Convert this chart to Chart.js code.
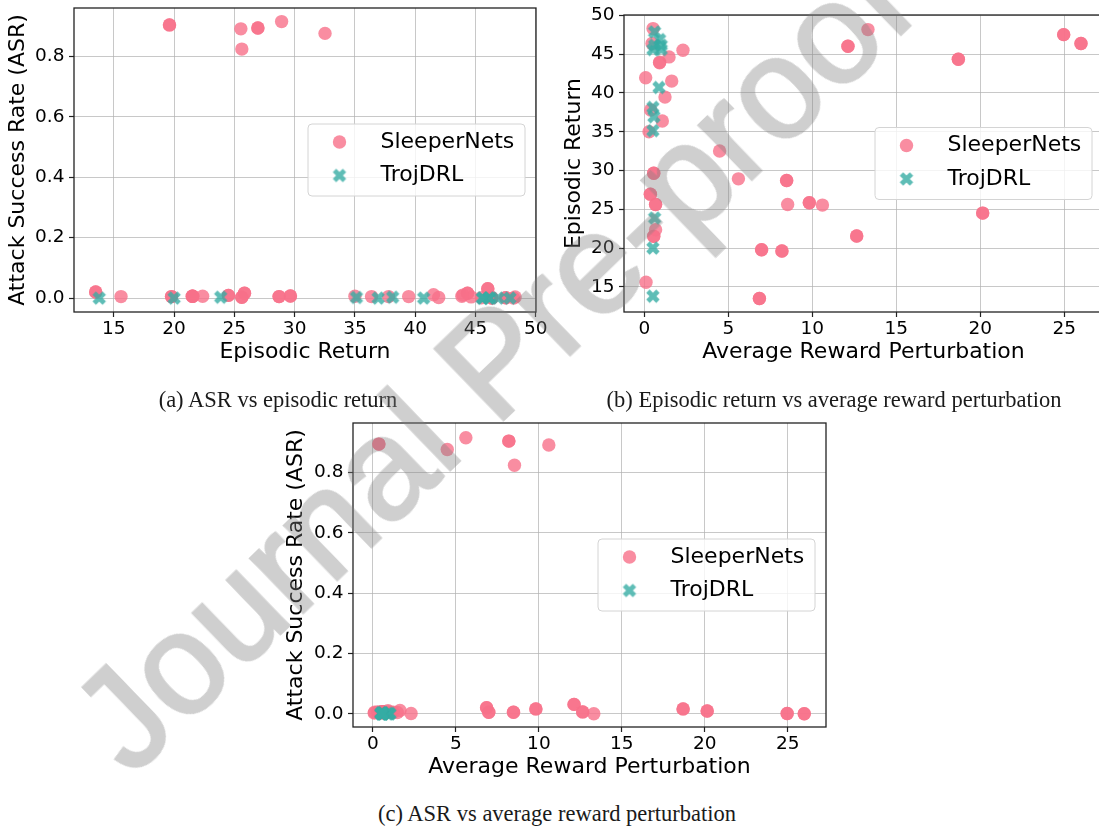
<!DOCTYPE html>
<html>
<head>
<meta charset="utf-8">
<script src="https://cdn.jsdelivr.net/npm/chart.js@4.4.1/dist/chart.umd.min.js"></script>
<style>
  html, body { margin: 0; padding: 0; background: #fff; overflow: hidden; }
  body { width: 1099px; height: 828px; position: relative; }
  canvas { position: absolute; }
  .caption {
    position: absolute; white-space: nowrap; transform: translate(-50%, -50%);
    font-family: "Liberation Serif", serif; font-size: 22.5px; color: #1a1a1a;
  }
  #watermark {
    position: absolute; left: 492px; top: 362px; white-space: nowrap; line-height: 1;
    transform: translate(-50%, -50%) rotate(-44deg);
    font-family: "Liberation Sans", sans-serif; font-size: 142px;
    color: rgb(128, 128, 128); -webkit-text-stroke: 3px rgb(128, 128, 128);
    opacity: 0.38; pointer-events: none;
  }
</style>
</head>
<body>
<canvas id="chartA" width="560" height="380" style="left:0px;top:0px"></canvas>
<canvas id="chartB" width="580" height="380" style="left:550px;top:0px"></canvas>
<canvas id="chartC" width="570" height="385" style="left:280px;top:410px"></canvas>
<div class="caption" style="left:278px;top:400px">(a) ASR vs episodic return</div>
<div class="caption" style="left:834px;top:400px">(b) Episodic return vs average reward perturbation</div>
<div class="caption" style="left:557px;top:814px">(c) ASR vs average reward perturbation</div>
<div id="watermark">Journal Pre-proof</div>
<script>
const seriesNames = ['SleeperNets', 'TrojDRL'];

// SleeperNets runs: reward perturbation, episodic return, attack success rate
const sleeperPerturb = [0.52, 13.31, 24.96, 24.96, 0.46, 25.99, 25.99, 12.12, 12.12, 2.30, 1.47, 18.69, 18.69,
  0.91, 0.91, 0.08, 1.63, 1.23, 0.38, 1.07, 0.28, 4.48, 0.56, 0.56, 5.60, 8.47, 8.47, 0.36, 0.36, 0.67, 0.67,
  8.53, 9.82, 9.82, 10.60, 20.14, 20.14, 0.67, 0.56, 0.56, 12.64, 12.64, 6.98, 6.98, 8.19, 8.19, 0.10, 6.85, 6.85];
const sleeperReturn = [48.29, 48.16, 47.51, 47.51, 46.36, 46.36, 46.36, 46.02, 46.02, 45.50, 44.64, 44.34, 44.34,
  43.87, 43.95, 41.95, 41.52, 39.46, 37.79, 36.38, 35.00, 32.52, 29.65, 29.65, 28.92, 28.71, 28.71, 26.95, 26.95, 25.62, 25.62,
  25.62, 25.84, 25.84, 25.54, 24.51, 24.51, 22.37, 21.51, 21.51, 21.55, 21.55, 19.79, 19.79, 19.62, 19.62, 15.60, 13.50, 13.50];
const sleeperAsr = [0.004, 0.000, 0.001, 0.001, 0.002, 0.000, 0.000, 0.031, 0.031, 0.001, 0.004, 0.016, 0.016,
  0.006, 0.010, 0.002, 0.011, 0.005, 0.005, 0.005, 0.006, 0.876, 0.007, 0.007, 0.915, 0.005, 0.005, 0.894, 0.894, 0.003, 0.003,
  0.824, 0.016, 0.016, 0.891, 0.009, 0.009, 0.006, 0.006, 0.006, 0.006, 0.006, 0.005, 0.005, 0.904, 0.904, 0.005, 0.020, 0.020];

// TrojDRL runs
const trojPerturb = [0.61, 0.91, 1.01, 0.61, 0.51, 1.01, 0.87, 0.51, 0.57, 0.51, 0.61, 0.51, 0.51];
const trojReturn = [47.86, 46.87, 46.14, 46.14, 45.59, 45.59, 40.70, 38.13, 36.93, 35.13, 23.87, 20.00, 13.79];
const trojAsr = [0.000, 0.000, 0.000, 0.000, 0.000, 0.000, 0.000, 0.003, 0.000, 0.002, 0.003, 0.000, 0.000];

const returnTicks = [15, 20, 25, 30, 35, 40, 45, 50];
const perturbTicks = [0, 5, 10, 15, 20, 25];
const asrTicks = [0, 0.2, 0.4, 0.6, 0.8];

const pink = 'rgba(247, 113, 137, 0.8)';
const teal = 'rgba(54, 173, 164, 0.8)';

function makeCross() {
  const c = document.createElement('canvas');
  c.width = 18; c.height = 18;
  const g = c.getContext('2d');
  const L = 7.1, t = 2.4;
  g.translate(9, 9);
  g.rotate(Math.PI / 4);
  g.fillStyle = teal;
  g.beginPath();
  g.moveTo(-t, -L); g.lineTo(t, -L); g.lineTo(t, -t); g.lineTo(L, -t); g.lineTo(L, t); g.lineTo(t, t);
  g.lineTo(t, L); g.lineTo(-t, L); g.lineTo(-t, t); g.lineTo(-L, t); g.lineTo(-L, -t); g.lineTo(-t, -t);
  g.closePath();
  g.fill();
  return c;
}
const crossImg = makeCross();

function pairs(xs, ys) {
  return xs.map((x, i) => ({ x: x, y: ys[i] }));
}

function axis(min, max, ticks, title, isX, size, titlePad, digits) {
  return {
    type: 'linear',
    min: min,
    max: max,
    afterBuildTicks: s => { s.ticks = ticks.map(v => ({ value: v })); },
    afterFit: s => {
      if (isX) s.height = size; else s.width = size;
      s.paddingTop = 0; s.paddingBottom = 0; s.paddingLeft = 0; s.paddingRight = 0;
    },
    grid: { color: 'rgba(176, 176, 176, 0.7)', lineWidth: 1, drawTicks: true, tickLength: 5, tickColor: '#222', tickWidth: 1.2 },
    border: { display: false },
    ticks: {
      color: '#000', padding: isX ? 1 : 4.5, maxRotation: 0, autoSkip: false,
      font: { family: 'DejaVu Sans', size: 18.5 },
      callback: v => v.toFixed(digits)
    },
    title: { display: true, text: title, color: '#000', font: { family: 'DejaVu Sans', size: 22 }, padding: titlePad }
  };
}

const frame = {
  id: 'frame',
  beforeDatasetsDraw(chart) {
    const { ctx, chartArea: a } = chart;
    ctx.save();
    ctx.strokeStyle = '#222';
    ctx.lineWidth = 1.3;
    ctx.strokeRect(a.left, a.top, a.right - a.left, a.bottom - a.top);
    ctx.restore();
  }
};

const legendBox = {
  id: 'legendBox',
  afterDatasetsDraw(chart) {
    const { ctx, chartArea: a } = chart;
    const w = 217, h = 72, r = 4;
    const x = a.right - 11 - w;
    const y = (a.top + a.bottom) / 2 - h / 2;
    ctx.save();
    ctx.beginPath();
    ctx.moveTo(x + r, y);
    ctx.arcTo(x + w, y, x + w, y + h, r);
    ctx.arcTo(x + w, y + h, x, y + h, r);
    ctx.arcTo(x, y + h, x, y, r);
    ctx.arcTo(x, y, x + w, y, r);
    ctx.closePath();
    ctx.fillStyle = 'rgba(255, 255, 255, 0.8)';
    ctx.fill();
    ctx.strokeStyle = '#d4d4d4';
    ctx.lineWidth = 1;
    ctx.stroke();

    const row1 = y + 18, row2 = y + 51.5;
    ctx.fillStyle = pink;
    ctx.beginPath();
    ctx.arc(x + 31.5, row1, 6.7, 0, Math.PI * 2);
    ctx.fill();
    ctx.drawImage(crossImg, x + 31.5 - 9, row2 - 9);

    ctx.fillStyle = '#000';
    ctx.font = '22px "DejaVu Sans"';
    ctx.textBaseline = 'middle';
    ctx.fillText(seriesNames[0], x + 72.5, row1);
    ctx.fillText(seriesNames[1], x + 72.5, row2);
    ctx.restore();
  }
};

function scatter(id, sleeperPts, trojPts, xAxis, yAxis, pad) {
  new Chart(document.getElementById(id), {
    type: 'scatter',
    data: {
      datasets: [
        { label: seriesNames[0], data: sleeperPts, backgroundColor: pink, borderWidth: 0, pointRadius: 6.7, order: 1 },
        { label: seriesNames[1], data: trojPts, pointStyle: crossImg, backgroundColor: teal, borderWidth: 0, pointRadius: 6.7, order: 0 }
      ]
    },
    options: {
      responsive: false,
      animation: false,
      events: [],
      layout: { padding: pad },
      plugins: { legend: { display: false }, tooltip: { enabled: false } },
      scales: { x: xAxis, y: yAxis }
    },
    plugins: [frame, legendBox]
  });
}

scatter('chartA',
  pairs(sleeperReturn, sleeperAsr), pairs(trojReturn, trojAsr),
  axis(11.7, 50.02, returnTicks, 'Episodic Return', true, 68, { bottom: 15 }, 0),
  axis(-0.046, 0.96, asrTicks, 'Attack Success Rate (ASR)', false, 74, { top: 5.5 }, 1),
  { top: 8, right: 24, left: 0, bottom: 0 });

scatter('chartB',
  pairs(sleeperPerturb, sleeperReturn), pairs(trojPerturb, trojReturn),
  axis(-1.21, 27.3, perturbTicks, 'Average Reward Perturbation', true, 68, { bottom: 15 }, 0),
  axis(11.76, 50.04, returnTicks, 'Episodic Return', false, 74, { top: 11.2 }, 0),
  { top: 15, right: 27, left: 0, bottom: 0 });

scatter('chartC',
  pairs(sleeperPerturb, sleeperAsr), pairs(trojPerturb, trojAsr),
  axis(-1.2, 27.3, perturbTicks, 'Average Reward Perturbation', true, 68, { bottom: 15 }, 0),
  axis(-0.044, 0.964, asrTicks, 'Attack Success Rate (ASR)', false, 73, { top: 3 }, 1),
  { top: 13, right: 24, left: 0, bottom: 0 });
</script>
</body>
</html>
